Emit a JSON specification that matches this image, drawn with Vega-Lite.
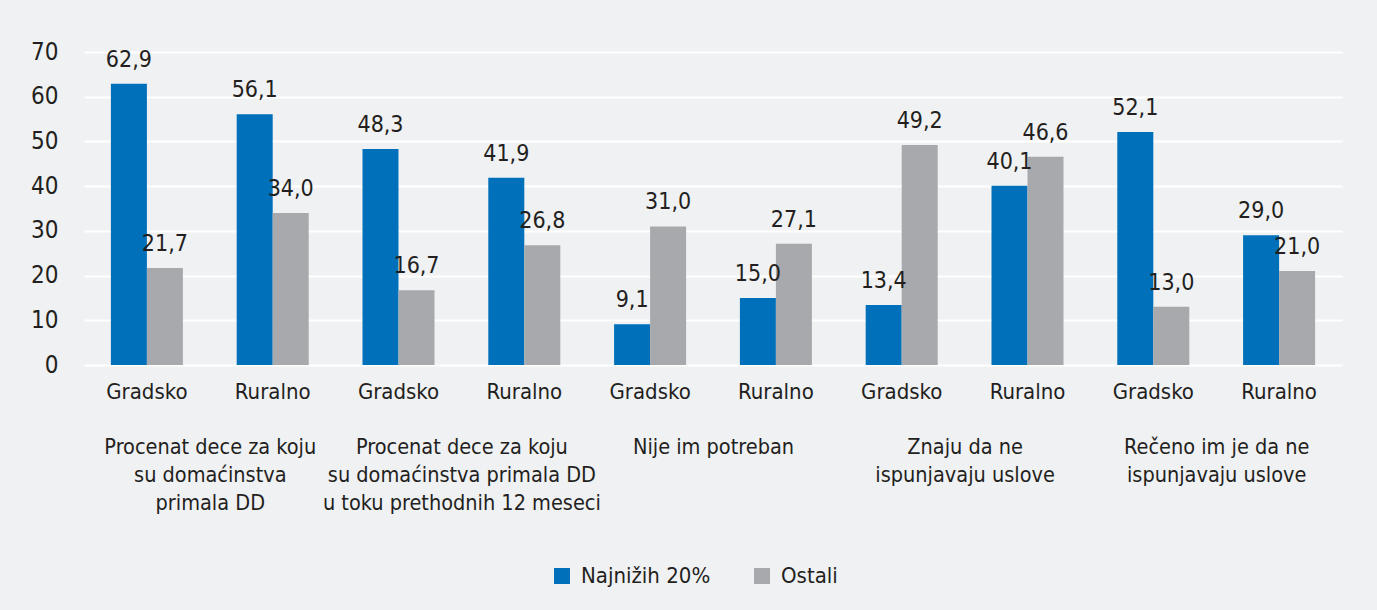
{
  "$schema": "https://vega.github.io/schema/vega-lite/v6.json",
  "width": 1258,
  "height": 313,
  "autosize": {"type": "none"},
  "padding": {"left": 84, "top": 52, "right": 35, "bottom": 245},
  "background": "#F0F1F3",
  "config": {
    "view": {"stroke": null},
    "font": "DejaVu Sans Condensed, Roboto Condensed, Liberation Sans Narrow, Arial Narrow, sans-serif",
    "locale": {"number": {"decimal": ",", "thousands": ".", "grouping": [3], "currency": ["", " €"]}},
    "axis": {"labelFont": "DejaVu Sans Condensed, Roboto Condensed, Liberation Sans Narrow, Arial Narrow, sans-serif", "labelColor": "#231F20", "domain": false, "ticks": false, "tickSize": 0, "title": null}
  },
  "datasets": {
    "bars": [
      {"cat": "1|Gradsko", "series": "Najnižih 20%", "value": 62.9},
      {"cat": "1|Gradsko", "series": "Ostali", "value": 21.7},
      {"cat": "1|Ruralno", "series": "Najnižih 20%", "value": 56.1},
      {"cat": "1|Ruralno", "series": "Ostali", "value": 34.0},
      {"cat": "2|Gradsko", "series": "Najnižih 20%", "value": 48.3},
      {"cat": "2|Gradsko", "series": "Ostali", "value": 16.7},
      {"cat": "2|Ruralno", "series": "Najnižih 20%", "value": 41.9},
      {"cat": "2|Ruralno", "series": "Ostali", "value": 26.8},
      {"cat": "3|Gradsko", "series": "Najnižih 20%", "value": 9.1},
      {"cat": "3|Gradsko", "series": "Ostali", "value": 31.0},
      {"cat": "3|Ruralno", "series": "Najnižih 20%", "value": 15.0},
      {"cat": "3|Ruralno", "series": "Ostali", "value": 27.1},
      {"cat": "4|Gradsko", "series": "Najnižih 20%", "value": 13.4},
      {"cat": "4|Gradsko", "series": "Ostali", "value": 49.2},
      {"cat": "4|Ruralno", "series": "Najnižih 20%", "value": 40.1},
      {"cat": "4|Ruralno", "series": "Ostali", "value": 46.6},
      {"cat": "5|Gradsko", "series": "Najnižih 20%", "value": 52.1},
      {"cat": "5|Gradsko", "series": "Ostali", "value": 13.0},
      {"cat": "5|Ruralno", "series": "Najnižih 20%", "value": 29.0},
      {"cat": "5|Ruralno", "series": "Ostali", "value": 21.0}
    ],
    "groups": [
      {"grp": "Procenat dece za koju\nsu domaćinstva\nprimala DD"},
      {"grp": "Procenat dece za koju\nsu domaćinstva primala DD\nu toku prethodnih 12 meseci"},
      {"grp": "Nije im potreban"},
      {"grp": "Znaju da ne\nispunjavaju uslove"},
      {"grp": "Rečeno im je da ne\nispunjavaju uslove"}
    ]
  },
  "layer": [
    {
      "data": {"name": "bars"},
      "encoding": {
        "x": {
          "field": "cat", "type": "nominal", "sort": null,
          "scale": {"paddingInner": 0, "paddingOuter": 0},
          "axis": {"orient": "bottom", "labelAngle": 0, "labelFontSize": 22, "labelPadding": 16, "labelExpr": "split(datum.value, '|')[1]", "grid": false}
        },
        "xOffset": {
          "field": "series", "type": "nominal", "sort": null,
          "scale": {"paddingInner": 0, "paddingOuter": 0.747}
        },
        "y": {
          "field": "value", "type": "quantitative",
          "scale": {"domain": [0, 70], "nice": false},
          "axis": {"values": [0, 10, 20, 30, 40, 50, 60, 70], "labelFontSize": 24, "labelPadding": 26, "grid": true, "gridColor": "#FFFFFF", "gridWidth": 2, "gridOpacity": 1}
        }
      },
      "layer": [
        {
          "mark": {"type": "bar"},
          "encoding": {
            "color": {
              "field": "series", "type": "nominal", "sort": null,
              "scale": {"domain": ["Najnižih 20%", "Ostali"], "range": ["#0070BA", "#A7A9AC"]},
              "legend": {
                "title": null, "orient": "none", "direction": "horizontal",
                "legendX": 467, "legendY": 513, "padding": 0,
                "symbolType": "square", "symbolSize": 256, "symbolStrokeWidth": 0, "symbolOpacity": 1,
                "labelFont": "DejaVu Sans Condensed, Roboto Condensed, Liberation Sans Narrow, Arial Narrow, sans-serif", "labelFontSize": 22, "labelColor": "#231F20", "labelOffset": 8,
                "columnPadding": 40, "labelLimit": 300
              }
            }
          }
        },
        {
          "mark": {"type": "text", "baseline": "alphabetic", "align": "center", "dy": -17, "fontSize": 23, "color": "#231F20", "font": "DejaVu Sans Condensed, Roboto Condensed, Liberation Sans Narrow, Arial Narrow, sans-serif"},
          "encoding": {
            "text": {"field": "value", "type": "quantitative", "format": ".1f"}
          }
        }
      ]
    },
    {
      "data": {"name": "groups"},
      "mark": {"type": "text"},
      "encoding": {
        "x": {
          "field": "grp", "type": "nominal", "sort": null,
          "scale": {"paddingInner": 0, "paddingOuter": 0},
          "axis": {"orient": "bottom", "labelAngle": 0, "labelFontSize": 21.5, "labelPadding": 71, "labelLineHeight": 28, "labelExpr": "split(datum.value, '\\n')", "labelLimit": 400, "grid": false}
        },
        "text": {"value": ""}
      }
    }
  ],
  "resolve": {"scale": {"x": "independent"}, "axis": {"x": "independent"}}
}
